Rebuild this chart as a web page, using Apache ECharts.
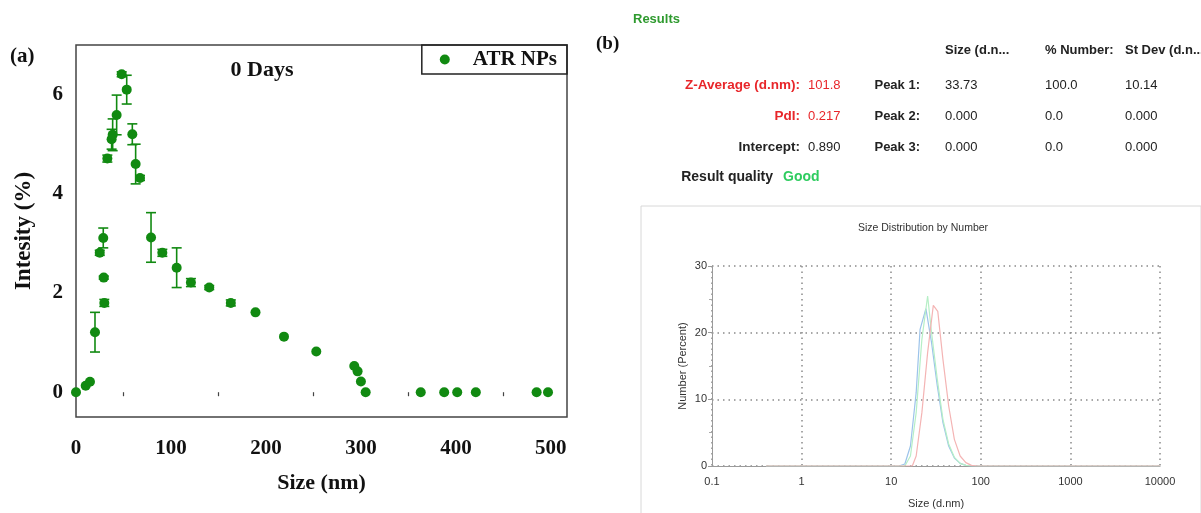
<!DOCTYPE html>
<html>
<head>
<meta charset="utf-8">
<script src="https://cdn.jsdelivr.net/npm/echarts@6/dist/echarts.min.js"></script>
<style>
html,body{margin:0;padding:0;background:#fff;}
#chart{width:1201px;height:513px;}
</style>
</head>
<body>
<div id="chart"></div>
<script>
// ---------- Panel (a): DLS intensity vs size, 0 days ----------
const sizeNm    = [0, 10.2, 14.7, 20, 25, 28.7, 29.2, 29.8, 33, 37.5, 38.6, 42.8, 48.1, 53.4, 59.3, 62.8, 67.4, 79, 90.9, 106, 121, 140.3, 163, 189, 219, 253, 293, 296.5, 300, 305, 363, 387.7, 401.4, 421, 485, 497];
const intensity = [0, 0.13, 0.21, 1.21, 2.81, 3.11, 2.31, 1.80, 4.71, 5.10, 5.19, 5.59, 6.41, 6.10, 5.20, 4.60, 4.32, 3.12, 2.81, 2.51, 2.21, 2.11, 1.80, 1.61, 1.12, 0.82, 0.53, 0.42, 0.215, 0, 0, 0, 0, 0, 0, 0];
const errorBar  = [0, 0, 0, 0.40, 0.05, 0.20, 0.03, 0.07, 0.07, 0.20, 0.32, 0.40, 0.05, 0.29, 0.21, 0.40, 0.05, 0.50, 0.07, 0.40, 0.08, 0.04, 0.06, 0, 0, 0, 0, 0, 0, 0, 0, 0, 0, 0, 0, 0];
const xTickLabelsA = [0, 100, 200, 300, 400, 500];
const yTickLabelsA = [0, 2, 4, 6];

// ---------- Panel (b): result summary ----------
const summaryLabels = ['Z-Average (d.nm):', 'PdI:', 'Intercept:', 'Result quality'];
const summaryValues = ['101.8', '0.217', '0.890', 'Good'];
const tableHeaders  = ['Size (d.n...', '% Number:', 'St Dev (d.n...'];
const peakLabels    = ['Peak 1:', 'Peak 2:', 'Peak 3:'];
const peakSize      = ['33.73', '0.000', '0.000'];
const peakNumber    = ['100.0', '0.0', '0.0'];
const peakStDev     = ['10.14', '0.000', '0.000'];

// ---------- Panel (b): size distribution by number (3 runs) ----------
const run1Size = [0.4, 12.2, 14.2, 16.4, 19.0, 21.0, 24.4, 28.2, 32.7, 37.8, 43.8, 50.7, 58.8, 68.1, 78.8, 10000];
const run1Num  = [0,   0,    0.3,  3,    11,   20.5, 23.6, 18.5, 12,   6.5,  3,    1.2,  0.4,  0.1,  0,    0];
const run2Size = [0.4, 14.2, 16.4, 19.0, 22.0, 25.5, 28.2, 32.7, 37.8, 43.8, 50.7, 58.8, 68.1, 78.8, 10000];
const run2Num  = [0,   0,    1.5,  8,    19,   25.5, 20,   13,   7,    3.3,  1.3,  0.4,  0.1,  0,    0];
const run3Size = [0.4, 17.2, 19.0, 22.0, 25.5, 29.5, 33.1, 37.8, 43.8, 50.7, 58.8, 68.1, 78.8, 91.3, 10000];
const run3Num  = [0,   0,    1.5,  8,    17,   24.1, 23.2, 16,   9,    4,    1.5,  0.5,  0.1,  0,    0];

const GREEN = '#118a11';
const SERIF = '"Liberation Serif", "DejaVu Serif", serif';
const SANS  = '"Liberation Sans", Arial, sans-serif';

const points = sizeNm.map((x, i) => [x, intensity[i]]);
const errData = sizeNm.map((x, i) => [x, intensity[i] - errorBar[i], intensity[i] + errorBar[i]]).filter((d, i) => errorBar[i] > 0);
const pair = (xs, ys) => xs.map((x, i) => [x, ys[i]]);

const graphics = [];
function txt(text, x, y, opts) {
  graphics.push({type: 'text', silent: true, style: Object.assign({
    text: text, x: x, y: y, textAlign: 'left', textVerticalAlign: 'middle',
    fill: '#222', font: '13px ' + SANS
  }, opts || {})});
}
// panel labels
txt('(a)', 10, 57, {font: 'bold 21px ' + SERIF, fill: '#111'});
txt('0 Days', 262, 70, {font: 'bold 22px ' + SERIF, fill: '#111', textAlign: 'center'});
txt('(b)', 596, 44, {font: 'bold 19px ' + SERIF, fill: '#111'});
txt('Results', 633, 19, {font: 'bold 13px ' + SANS, fill: '#2e9a2e'});
// summary block
const rowY = [85, 116, 147, 177];
summaryLabels.forEach((s, i) => {
  const red = i < 2;
  txt(s, i === 3 ? 773 : 800, rowY[i], {font: (i === 3 ? 'bold 14px ' : 'bold 13.5px ') + SANS, fill: red ? '#e8262a' : '#222', textAlign: 'right'});
  txt(summaryValues[i], i === 3 ? 783 : 808, rowY[i], {font: (i === 3 ? 'bold 14px ' : '13px ') + SANS, fill: i === 3 ? '#2ecc5f' : (red ? '#e8262a' : '#222')});
});
// peak table
const colX = [945, 1045, 1125];
tableHeaders.forEach((h, j) => txt(h, colX[j], 50, {font: 'bold 13px ' + SANS}));
peakLabels.forEach((p, i) => {
  txt(p, 920, rowY[i], {font: 'bold 13px ' + SANS, textAlign: 'right'});
  txt(peakSize[i], colX[0], rowY[i]);
  txt(peakNumber[i], colX[1], rowY[i]);
  txt(peakStDev[i], colX[2], rowY[i]);
});
txt('Size Distribution by Number', 923, 228, {font: '10.5px ' + SANS, textAlign: 'center', fill: '#333'});
graphics.push({type: 'rect', silent: true, z: -1, shape: {x: 641, y: 206, width: 560, height: 310},
  style: {fill: 'none', stroke: '#d8d8d8', lineWidth: 1}});

const option = {
  animation: false,
  backgroundColor: '#fff',
  graphic: graphics,
  legend: {
    data: ['ATR NPs'],
    right: 634, top: 45,
    orient: 'horizontal',
    padding: [4, 10, 4, 18],
    itemWidth: 10, itemHeight: 10,
    icon: 'circle',
    borderColor: '#222', borderWidth: 1.5,
    textStyle: {fontFamily: SERIF, fontWeight: 'bold', fontSize: 21, color: '#111', padding: [0, 0, 0, 18]}
  },
  grid: [
    {left: 76, top: 45, width: 491, height: 372, show: true, borderColor: '#444', borderWidth: 1.5, backgroundColor: 'transparent', outerBoundsMode: 'none', containLabel: false},
    {left: 712, top: 266, width: 448, height: 200, outerBoundsMode: 'none', containLabel: false}
  ],
  xAxis: [
    {
      gridIndex: 0, type: 'value', min: 0, max: 517, interval: 100,
      axisLine: {show: false}, axisTick: {show: false}, splitLine: {show: false},
      minorTick: {show: true, splitNumber: 2, length: 4, lineStyle: {color: '#444', width: 1.2}},
      axisLabel: {margin: 21, fontFamily: SERIF, fontWeight: 'bold', fontSize: 21, color: '#111', showMaxLabel: false,
        formatter: v => (xTickLabelsA.indexOf(v) >= 0 ? String(v) : '')},
      name: 'Size (nm)', nameLocation: 'middle', nameGap: 55,
      nameTextStyle: {fontFamily: SERIF, fontWeight: 'bold', fontSize: 22, color: '#111'}
    },
    {
      gridIndex: 1, type: 'log', logBase: 10, min: 0.1, max: 10000,
      axisLine: {show: true, onZero: false, lineStyle: {color: '#9a9a9a', width: 1}},
      axisTick: {show: false},
      splitLine: {show: true, lineStyle: {color: '#8a8a8a', type: [1.5, 4], width: 1.5}},
      axisLabel: {margin: 10, fontFamily: SANS, fontSize: 11, color: '#333',
        formatter: v => String(+v.toPrecision(3))},
      name: 'Size (d.nm)', nameLocation: 'middle', nameGap: 32,
      nameTextStyle: {fontFamily: SANS, fontSize: 11, color: '#333'}
    }
  ],
  yAxis: [
    {
      gridIndex: 0, type: 'value', min: -0.5, max: 7, interval: 0.5,
      axisLine: {show: false}, axisTick: {show: false}, splitLine: {show: false},
      axisLabel: {margin: 13, fontFamily: SERIF, fontWeight: 'bold', fontSize: 21, color: '#111',
        showMinLabel: false, showMaxLabel: false,
        formatter: v => (yTickLabelsA.indexOf(v) >= 0 ? String(v) : '')},
      name: 'Intesity (%)', nameLocation: 'middle', nameGap: 40, nameRotate: 90,
      nameTextStyle: {fontFamily: SERIF, fontWeight: 'bold', fontSize: 23, color: '#111'}
    },
    {
      gridIndex: 1, type: 'value', min: 0, max: 30, interval: 10,
      axisLine: {show: true, lineStyle: {color: '#9a9a9a', width: 1}},
      axisTick: {show: true, length: 4, lineStyle: {color: '#9a9a9a'}},
      minorTick: {show: true, splitNumber: 2, length: 3, lineStyle: {color: '#aaa'}},
      splitLine: {show: true, lineStyle: {color: '#8a8a8a', type: [1.5, 4], width: 1.5}},
      axisLabel: {margin: 5, fontFamily: SANS, fontSize: 11, color: '#333'},
      name: 'Number (Percent)', nameLocation: 'middle', nameGap: 24, nameRotate: 90,
      nameTextStyle: {fontFamily: SANS, fontSize: 11, color: '#333'}
    }
  ],
  series: [
    {
      type: 'custom', name: 'error', xAxisIndex: 0, yAxisIndex: 0, z: 2, silent: true,
      data: errData,
      encode: {x: 0, y: [1, 2]},
      renderItem: function (params, api) {
        const x = api.value(0);
        const p1 = api.coord([x, api.value(1)]);
        const p2 = api.coord([x, api.value(2)]);
        const w = 5;
        const st = {stroke: GREEN, lineWidth: 1.6};
        return {type: 'group', children: [
          {type: 'line', shape: {x1: p1[0], y1: p1[1], x2: p2[0], y2: p2[1]}, style: st},
          {type: 'line', shape: {x1: p1[0] - w, y1: p1[1], x2: p1[0] + w, y2: p1[1]}, style: st},
          {type: 'line', shape: {x1: p2[0] - w, y1: p2[1], x2: p2[0] + w, y2: p2[1]}, style: st}
        ]};
      }
    },
    {
      type: 'scatter', name: 'ATR NPs', xAxisIndex: 0, yAxisIndex: 0, z: 3,
      symbol: 'circle', symbolSize: 10,
      itemStyle: {color: GREEN, opacity: 1},
      data: points
    },
    {
      type: 'line', name: 'Run 1', xAxisIndex: 1, yAxisIndex: 1, showSymbol: false,
      lineStyle: {color: '#9cc3ea', width: 1.2}, itemStyle: {color: '#9cc3ea'},
      data: pair(run1Size, run1Num)
    },
    {
      type: 'line', name: 'Run 2', xAxisIndex: 1, yAxisIndex: 1, showSymbol: false,
      lineStyle: {color: '#b6efc6', width: 1.2}, itemStyle: {color: '#b6efc6'},
      data: pair(run2Size, run2Num)
    },
    {
      type: 'line', name: 'Run 3', xAxisIndex: 1, yAxisIndex: 1, showSymbol: false,
      lineStyle: {color: '#f4b4b4', width: 1.2}, itemStyle: {color: '#f4b4b4'},
      data: pair(run3Size, run3Num)
    }
  ]
};
const chart = echarts.init(document.getElementById('chart'), null, {renderer: 'canvas'});
chart.setOption(option);
</script>
</body>
</html>
